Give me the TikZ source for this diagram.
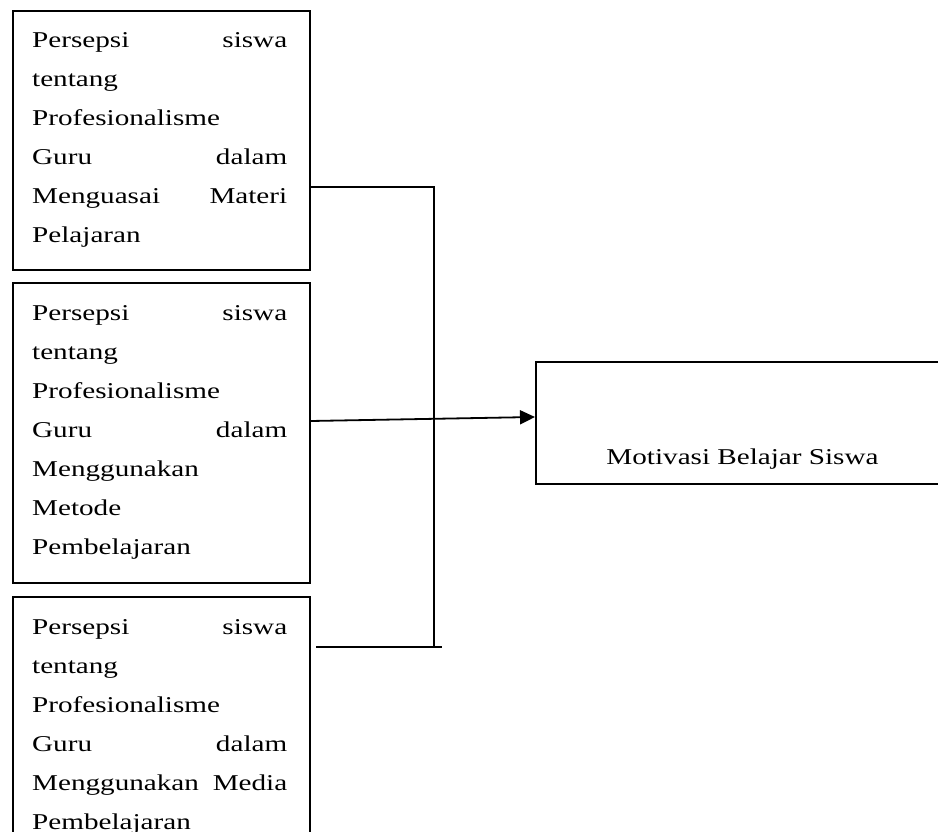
\documentclass[tikz,border=0pt]{standalone}
\usepackage{fontspec}
\usepackage{graphicx}
\setmainfont{Liberation Serif}
\usetikzlibrary{arrows.meta}
\newcommand{\wtext}[1]{\scalebox{1.29}[1]{\parbox[t]{197.7pt}{\raggedright\fontsize{22.6}{39}\selectfont\rule{0pt}{20pt}#1}}}
\tikzset{
  boxshape/.style={draw=black, line width=1.8pt, rectangle, inner sep=0pt, anchor=north west},
  boxtext/.style={anchor=north west, inner sep=0pt},
  conn/.style={draw=black, line width=1.8pt}
}
\begin{document}
\begin{tikzpicture}[x=1pt,y=-1pt]
\useasboundingbox (0,0) rectangle (938,832);
% left boxes
\node[boxshape, minimum width=297pt, minimum height=259pt] (b1) at (12,10) {};
\node[boxshape, minimum width=297pt, minimum height=300pt] (b2) at (12,282) {};
\node[boxshape, minimum width=297pt, minimum height=280pt] (b3) at (12,596) {};
\node[boxtext] (t1) at (32,27.5) {\wtext{Persepsi\hfill siswa\\tentang\\Profesionalisme\\Guru\hfill dalam\\Menguasai\hfill Materi\\Pelajaran}};
\node[boxtext] (t2) at (32,300) {\wtext{Persepsi\hfill siswa\\tentang\\Profesionalisme\\Guru\hfill dalam\\Menggunakan\\Metode\\Pembelajaran}};
\node[boxtext] (t3) at (32,614) {\wtext{Persepsi\hfill siswa\\tentang\\Profesionalisme\\Guru\hfill dalam\\Menggunakan\hfill Media\\Pembelajaran}};
% right box
\node[boxshape, minimum width=430pt, minimum height=122pt] (m) at (535,361) {};
\node[anchor=base, inner sep=0pt, font=\fontsize{22.6}{39}\selectfont] (mt) at (742.5,464) {\scalebox{1.29}[1]{Motivasi Belajar Siswa}};
% connectors
\coordinate (s1) at ([yshift=-177pt]b1.north east);
\coordinate (j1) at (434,187);
\coordinate (j2) at (434,647);
\coordinate (h1) at (316,647);
\coordinate (h2) at (442,647);
\draw[conn] (s1) -- (j1) -- (j2);
\draw[conn] (h1) -- (h2);
\coordinate (s2) at ([yshift=-139pt]b2.north east);
\coordinate (e2) at ([yshift=-56pt]m.north west);
\draw[conn, -{Triangle[length=15pt,width=14pt]}] (s2) -- (e2);
\end{tikzpicture}
\end{document}
